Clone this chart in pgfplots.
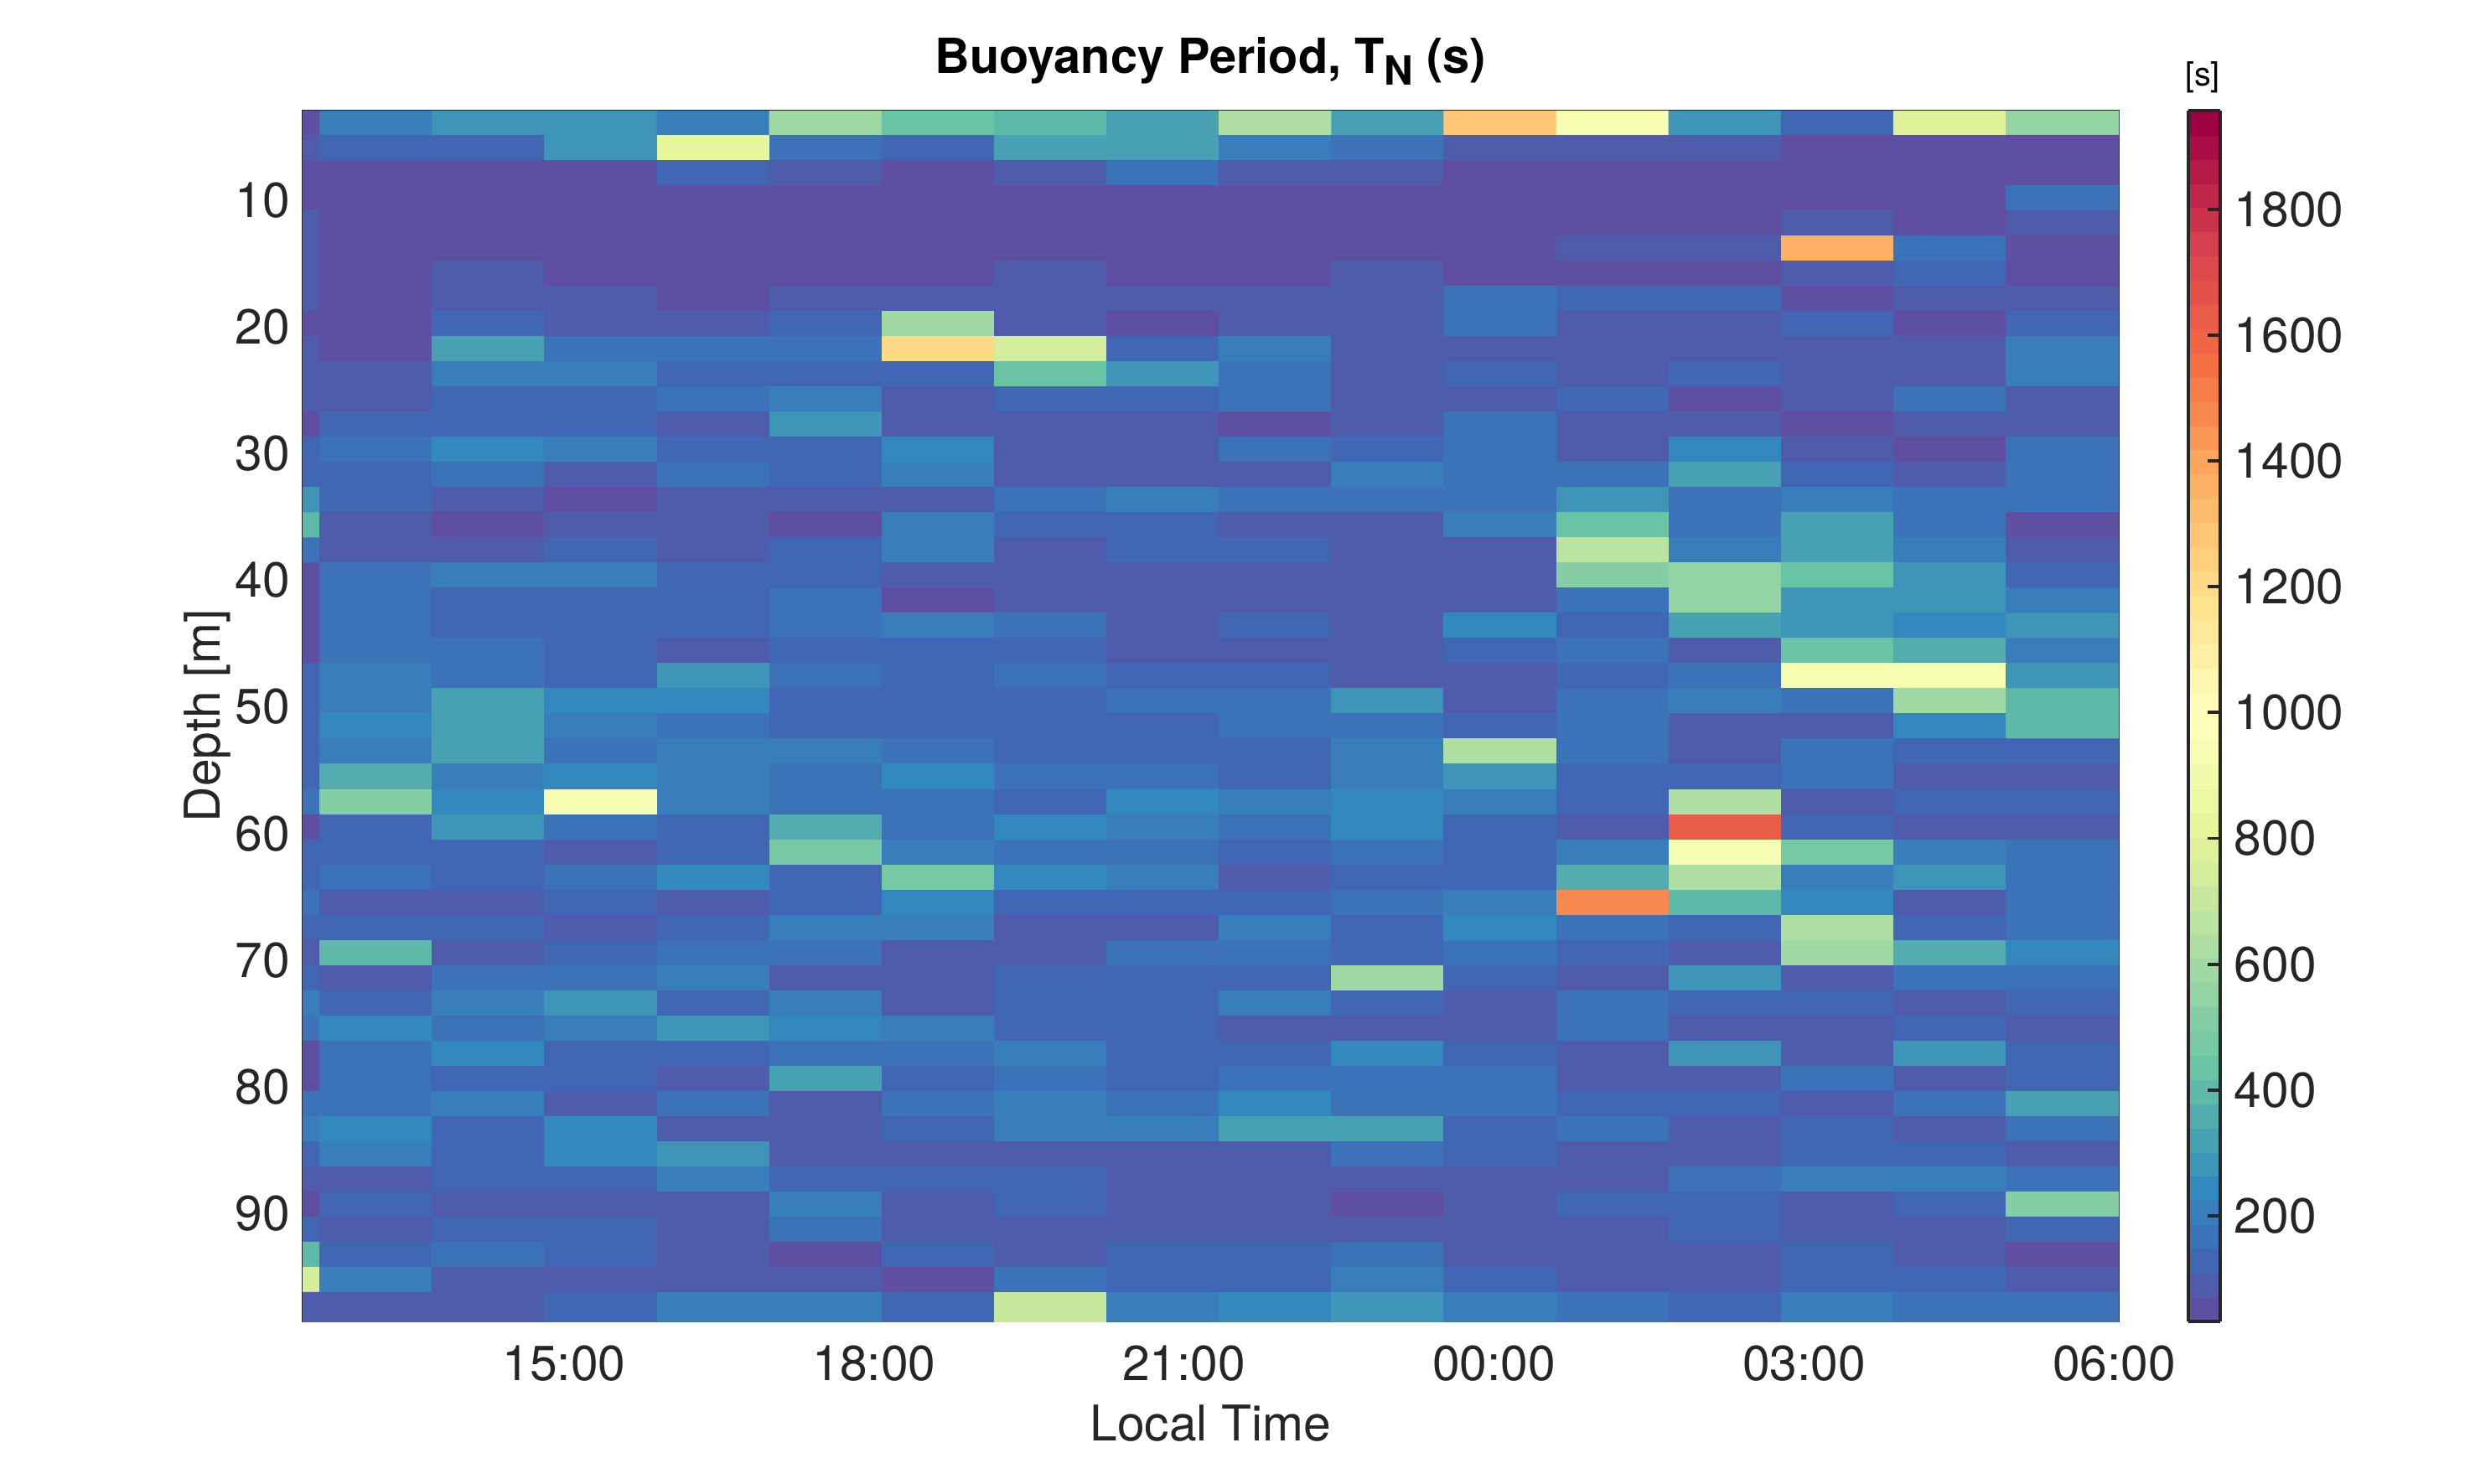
\documentclass[border=0pt]{standalone}
\usepackage{pgfplots}
\pgfplotsset{compat=1.18}
\usepackage{fontspec}
\setmainfont{TeX Gyre Heros}
\definecolor{axc}{gray}{0.15}
\pgfplotsset{
  colormap={specb}{rgb255(0pt)=(94,79,162) rgb255(2pt)=(65,102,179) rgb255(5pt)=(50,136,189) rgb255(10pt)=(102,194,165) rgb255(15pt)=(171,221,164) rgb255(20pt)=(230,245,152) rgb255(25pt)=(255,255,191) rgb255(30pt)=(254,224,139) rgb255(35pt)=(253,174,97) rgb255(40pt)=(244,109,67) rgb255(45pt)=(213,62,79) rgb255(50pt)=(158,1,66)},
  colormap={specd}{samples of colormap=(50 of specb)},
}
\begin{document}
\begin{tikzpicture}
\useasboundingbox (0,0) rectangle (708.72pt,425.04pt);
\begin{axis}[
  at={(86.64pt,46.56pt)}, anchor=south west,
  scale only axis, width=520.08pt, height=346.8pt,
  xmin=12.47, xmax=30.045, ymin=2.91, ymax=98.54,
  y dir=reverse,
  axis line style={color=axc, line width=0.4pt},
  xtick={15,18,21,24,27,30},
  xticklabels={15:00,18:00,21:00,00:00,03:00,06:00},
  ytick={10,20,...,90},
  major tick length=0pt,
  tick align=inside,
  xticklabel style={font=\fontsize{14.1}{16}\selectfont, text=axc, yshift=-3.5pt},
  yticklabel style={font=\fontsize{14.1}{16}\selectfont, text=axc},
  /pgf/number format/assume math mode=true,
  /pgf/number format/1000 sep={},
  colormap name=specd,
  colormap access=piecewise constant,
  point meta min=32, point meta max=1957,
  colorbar sampled,
  colorbar shift/.style={xshift=0.24pt},
  colorbar style={
    scale only axis, width=9.12pt, height=346.8pt,
    samples=51,
    ytick={200,400,...,1800},
    yticklabel pos=right,
    ytick pos=right,
    major tick length=3.6pt,
    tick align=inside,
    tick style={color=axc, line width=0.9pt},
    axis line style={color=axc, line width=0.9pt},
    yticklabel style={font=\fontsize{14.1}{16}\selectfont, text=axc, /pgf/number format/assume math mode=true, /pgf/number format/1000 sep={}, xshift=0.5pt},
  },
]
\addplot[matrix plot*, mesh/cols=17, mesh/ordering=x varies, point meta=explicit]
  table[row sep=\\, header=false,
    x expr={12.64+(mod(\coordindex,17)-0.5)*1.0878},
    y expr={2.889+(floor((\coordindex+0.5)/17)+0.5)*1.987},
    meta index=0] {
60\\205\\290\\285\\205\\590\\440\\410\\320\\630\\325\\1300\\950\\270\\130\\790\\550\\
80\\130\\130\\270\\810\\160\\130\\320\\320\\210\\165\\90\\90\\90\\50\\50\\50\\
50\\50\\50\\50\\130\\90\\50\\90\\160\\90\\90\\50\\50\\50\\50\\50\\50\\
50\\50\\50\\50\\50\\50\\50\\50\\50\\50\\50\\50\\50\\50\\50\\50\\160\\
100\\50\\50\\50\\50\\50\\50\\50\\50\\50\\50\\50\\50\\50\\90\\50\\90\\
100\\50\\50\\50\\50\\50\\50\\50\\50\\50\\50\\50\\90\\90\\1350\\165\\50\\
100\\50\\90\\50\\50\\50\\50\\90\\50\\50\\90\\50\\50\\50\\90\\130\\50\\
100\\50\\90\\90\\50\\90\\90\\90\\90\\90\\90\\165\\130\\130\\50\\90\\90\\
50\\50\\130\\90\\90\\130\\590\\90\\50\\90\\90\\165\\90\\90\\130\\50\\130\\
90\\50\\320\\165\\165\\165\\1200\\740\\130\\205\\90\\90\\90\\90\\90\\90\\205\\
90\\90\\205\\205\\130\\130\\130\\440\\270\\165\\90\\130\\90\\130\\90\\90\\205\\
90\\90\\130\\130\\165\\205\\90\\130\\130\\165\\90\\90\\130\\50\\90\\165\\90\\
70\\130\\130\\130\\90\\280\\90\\90\\90\\50\\90\\165\\90\\90\\50\\90\\90\\
110\\165\\230\\205\\130\\130\\230\\90\\90\\150\\130\\165\\90\\240\\90\\50\\165\\
130\\130\\165\\90\\165\\130\\205\\90\\90\\90\\205\\165\\165\\325\\130\\90\\165\\
270\\130\\90\\50\\90\\90\\90\\165\\205\\165\\165\\165\\270\\165\\205\\165\\165\\
400\\90\\50\\90\\90\\50\\205\\130\\130\\90\\90\\205\\440\\165\\325\\165\\50\\
165\\90\\90\\130\\90\\130\\205\\90\\130\\130\\90\\90\\680\\205\\325\\205\\90\\
70\\165\\205\\205\\130\\130\\90\\90\\90\\90\\90\\90\\510\\560\\440\\270\\130\\
70\\165\\130\\130\\130\\165\\50\\90\\90\\90\\90\\90\\165\\560\\270\\270\\205\\
70\\165\\130\\130\\130\\165\\205\\165\\90\\130\\90\\240\\130\\320\\270\\240\\280\\
70\\165\\165\\130\\90\\130\\130\\130\\90\\90\\90\\130\\165\\90\\420\\370\\205\\
130\\205\\165\\130\\280\\165\\130\\165\\130\\130\\90\\90\\130\\165\\940\\940\\280\\
130\\205\\330\\240\\240\\130\\130\\130\\165\\165\\285\\90\\165\\205\\165\\600\\410\\
130\\240\\330\\205\\165\\130\\130\\130\\130\\165\\165\\130\\165\\90\\90\\240\\410\\
130\\205\\330\\165\\205\\205\\165\\130\\130\\110\\205\\640\\165\\90\\165\\130\\130\\
130\\370\\205\\240\\205\\165\\240\\165\\165\\130\\205\\285\\130\\130\\165\\90\\90\\
165\\500\\240\\930\\205\\165\\165\\130\\240\\205\\240\\205\\130\\640\\90\\130\\130\\
70\\130\\285\\165\\130\\370\\165\\240\\205\\165\\240\\130\\90\\1620\\130\\90\\90\\
130\\130\\130\\90\\130\\470\\205\\165\\165\\130\\165\\130\\205\\940\\480\\205\\165\\
130\\165\\130\\165\\240\\130\\470\\240\\205\\90\\130\\130\\370\\640\\205\\280\\165\\
165\\90\\90\\130\\90\\130\\240\\110\\110\\130\\165\\205\\1480\\400\\245\\90\\165\\
130\\130\\130\\90\\130\\205\\205\\90\\90\\205\\130\\240\\165\\130\\640\\130\\165\\
90\\410\\90\\130\\165\\165\\90\\90\\165\\165\\130\\165\\130\\90\\590\\370\\240\\
130\\90\\165\\165\\205\\90\\90\\130\\130\\130\\590\\130\\90\\280\\90\\165\\165\\
205\\130\\205\\285\\130\\205\\90\\130\\130\\205\\130\\90\\165\\130\\130\\90\\130\\
165\\240\\165\\205\\280\\240\\205\\130\\130\\90\\90\\90\\165\\90\\90\\130\\90\\
70\\165\\245\\130\\130\\165\\165\\205\\130\\130\\240\\130\\90\\285\\90\\285\\130\\
70\\165\\130\\130\\90\\325\\130\\165\\130\\165\\165\\165\\90\\90\\165\\90\\130\\
165\\165\\205\\90\\165\\90\\165\\205\\165\\240\\165\\165\\130\\130\\90\\165\\325\\
205\\245\\130\\245\\90\\90\\130\\205\\205\\325\\325\\130\\165\\90\\130\\90\\165\\
130\\205\\130\\245\\285\\90\\90\\90\\90\\90\\165\\130\\90\\90\\130\\130\\90\\
90\\90\\130\\130\\205\\130\\130\\130\\90\\90\\90\\90\\90\\165\\205\\205\\165\\
70\\130\\90\\90\\90\\205\\90\\130\\90\\90\\50\\90\\130\\130\\90\\130\\510\\
130\\90\\130\\130\\90\\165\\90\\90\\90\\90\\90\\90\\90\\130\\90\\90\\130\\
410\\130\\165\\130\\90\\50\\130\\90\\130\\130\\165\\90\\90\\90\\130\\90\\50\\
740\\205\\90\\90\\90\\90\\50\\165\\130\\130\\205\\130\\90\\90\\130\\130\\90\\
90\\90\\90\\130\\205\\205\\130\\700\\205\\240\\285\\205\\165\\130\\205\\165\\165\\
90\\90\\90\\130\\205\\205\\130\\700\\205\\240\\285\\205\\165\\130\\205\\165\\165\\
};
\end{axis}
\node[font=\bfseries\fontsize{13.85}{16}\selectfont, text=black, anchor=base] at (346.6pt,404.1pt) {Buoyancy Period, T\raisebox{-3.5pt}{\fontsize{11.5}{12}\selectfont N} (s)};
\node[font=\fontsize{14.1}{16}\selectfont, text=axc, anchor=center] at (346.6pt,17.3pt) {Local Time};
\node[font=\fontsize{14.1}{16}\selectfont, text=axc, anchor=center, rotate=90] at (59.5pt,220pt) {Depth [m]};
\node[font=\fontsize{9.5}{11}\selectfont, text=black, anchor=center] at (630.7pt,402.9pt) {[s]};
\end{tikzpicture}
\end{document}
